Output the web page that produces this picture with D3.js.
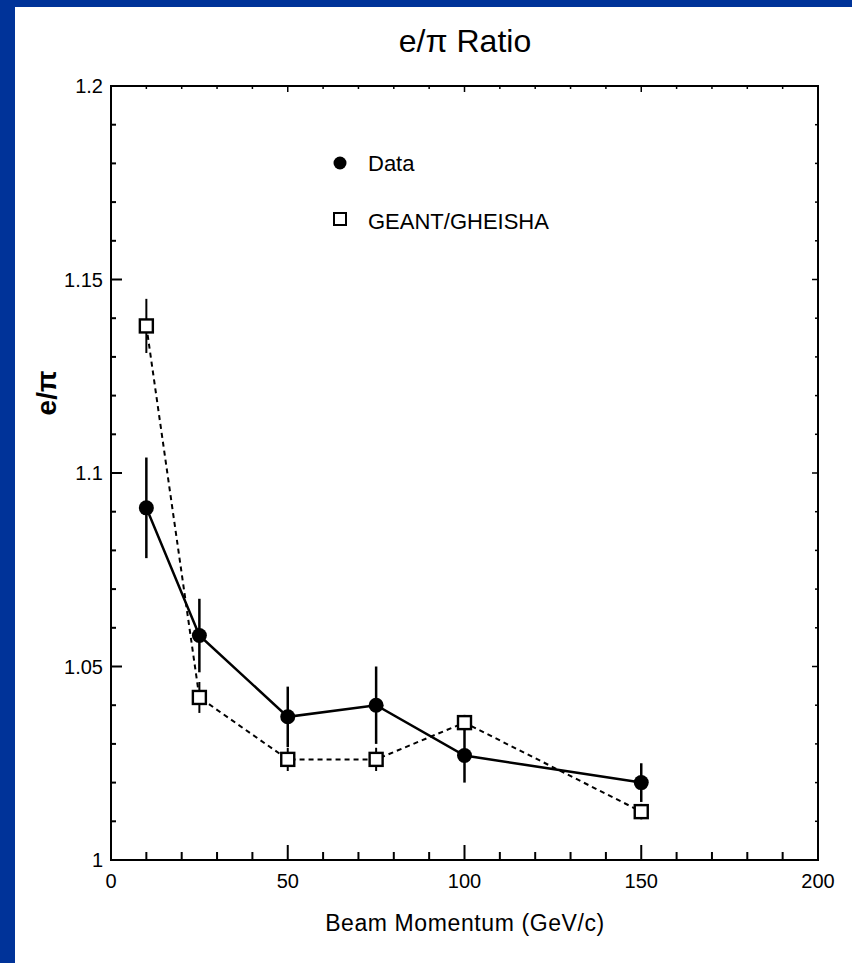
<!DOCTYPE html>
<html>
<head>
<meta charset="utf-8">
<script src="https://cdn.jsdelivr.net/npm/d3@7"></script>
<style>
  html, body { margin: 0; padding: 0; background: #003399; }
  svg { display: block; }
  text { font-family: "Liberation Sans", Arial, sans-serif; fill: #000; }
</style>
</head>
<body>
<div id="container"></div>
<script>
// values
let momenta = [10, 25, 50, 75, 100, 150];
let dataRatio = [1.091, 1.058, 1.037, 1.040, 1.027, 1.020];
let dataErr = [0.013, 0.0095, 0.0078, 0.010, 0.007, 0.005];
let geantRatio = [1.138, 1.042, 1.026, 1.026, 1.0355, 1.0125];
let geantErr = [0.007, 0.004, 0.003, 0.003, 0.002, 0.002];
let seriesNames = ["Data", "GEANT/GHEISHA"];
let xTicks = [0, 50, 100, 150, 200];
let yTicks = [1, 1.05, 1.1, 1.15, 1.2];
let yTickLabels = ["1", "1.05", "1.1", "1.15", "1.2"];

let W = 852, H = 963;
let margin = {top: 86, right: 34, bottom: 103, left: 111},
    width = W - margin.left - margin.right,
    height = H - margin.top - margin.bottom;

let svg = d3.select("#container")
            .append("svg")
              .attr("width", W)
              .attr("height", H);

// blue slide frame, white page
svg.append("rect").attr("width", W).attr("height", H).attr("fill", "#003399");
svg.append("rect").attr("x", 15).attr("y", 7).attr("width", W - 15).attr("height", H - 7).attr("fill", "#fff");

let graph = svg.append("g")
               .attr("transform", "translate(" + margin.left + "," + margin.top + ")");

let xScale = d3.scaleLinear().domain([0, 200]).range([0, width]);
let yScale = d3.scaleLinear().domain([1, 1.2]).range([height, 0]);

// frame
graph.append("rect")
     .attr("width", width).attr("height", height)
     .attr("fill", "none").attr("stroke", "#000").attr("stroke-width", 2);

// inward ticks, minor every 10 on x and 0.01 on y
let xMinor = d3.range(0, 201, 10);
let yMinor = d3.range(0, 21).map(i => 1 + i * 0.01);
function isMajorX(v) { return v % 50 === 0; }
function isMajorY(v) { return Math.abs(v * 20 - Math.round(v * 20)) < 1e-6; }

graph.append("g").selectAll("line")
     .data(xMinor).enter().append("line")
       .attr("x1", d => xScale(d)).attr("x2", d => xScale(d))
       .attr("y1", height).attr("y2", d => height - (isMajorX(d) ? 15 : 8))
       .attr("stroke", "#000").attr("stroke-width", 2);
graph.append("g").selectAll("line")
     .data(xMinor).enter().append("line")
       .attr("x1", d => xScale(d)).attr("x2", d => xScale(d))
       .attr("y1", 0).attr("y2", d => isMajorX(d) ? 6 : 3)
       .attr("stroke", "#000").attr("stroke-width", 1.5);
graph.append("g").selectAll("line")
     .data(yMinor).enter().append("line")
       .attr("y1", d => yScale(d)).attr("y2", d => yScale(d))
       .attr("x1", 0).attr("x2", d => isMajorY(d) ? 11 : 5)
       .attr("stroke", "#000").attr("stroke-width", 2);
graph.append("g").selectAll("line")
     .data(yMinor).enter().append("line")
       .attr("y1", d => yScale(d)).attr("y2", d => yScale(d))
       .attr("x1", width).attr("x2", d => width - (isMajorY(d) ? 6 : 3))
       .attr("stroke", "#000").attr("stroke-width", 1.5);

// tick labels
graph.append("g").selectAll("text")
     .data(xTicks).enter().append("text")
       .attr("x", d => xScale(d)).attr("y", height + 28)
       .attr("text-anchor", "middle")
       .style("font-size", "20px")
       .text(d => d);
graph.append("g").selectAll("text")
     .data(yTicks).enter().append("text")
       .attr("x", -8).attr("y", d => yScale(d) + 7)
       .attr("text-anchor", "end")
       .style("font-size", "20px")
       .text((d, i) => yTickLabels[i]);

// titles
svg.append("text")
   .attr("x", 465).attr("y", 52)
   .attr("text-anchor", "middle")
   .style("font-size", "32px")
   .text("e/\u03c0 Ratio");
svg.append("text")
   .attr("x", 465).attr("y", 931)
   .attr("text-anchor", "middle")
   .style("font-size", "23px")
   .style("letter-spacing", "0.6px")
   .text("Beam Momentum (GeV/c)");
svg.append("text")
   .attr("transform", "translate(56,393) rotate(-90)")
   .attr("text-anchor", "middle")
   .style("font-size", "28px")
   .style("font-weight", "bold")
   .text("e/\u03c0");

let dataPts = momenta.map((m, i) => ({x: m, y: dataRatio[i], e: dataErr[i]}));
let geantPts = momenta.map((m, i) => ({x: m, y: geantRatio[i], e: geantErr[i]}));

let line = d3.line().x(d => xScale(d.x)).y(d => yScale(d.y));

// GEANT (dashed, open squares)
graph.append("path").datum(geantPts)
     .attr("d", line).attr("fill", "none")
     .attr("stroke", "#000").attr("stroke-width", 2)
     .attr("stroke-dasharray", "5,4");
graph.append("g").selectAll("line")
     .data(geantPts).enter().append("line")
       .attr("x1", d => xScale(d.x)).attr("x2", d => xScale(d.x))
       .attr("y1", d => yScale(d.y + d.e)).attr("y2", d => yScale(d.y - d.e))
       .attr("stroke", "#000").attr("stroke-width", 2);

// Data (solid, filled circles)
graph.append("path").datum(dataPts)
     .attr("d", line).attr("fill", "none")
     .attr("stroke", "#000").attr("stroke-width", 2.5);
graph.append("g").selectAll("line")
     .data(dataPts).enter().append("line")
       .attr("x1", d => xScale(d.x)).attr("x2", d => xScale(d.x))
       .attr("y1", d => yScale(d.y + d.e)).attr("y2", d => yScale(d.y - d.e))
       .attr("stroke", "#000").attr("stroke-width", 2.5);

graph.append("g").selectAll("rect")
     .data(geantPts).enter().append("rect")
       .attr("x", d => xScale(d.x) - 6.5).attr("y", d => yScale(d.y) - 6.5)
       .attr("width", 13).attr("height", 13)
       .attr("fill", "#fff").attr("stroke", "#000").attr("stroke-width", 2.4);
graph.append("g").selectAll("circle")
     .data(dataPts).enter().append("circle")
       .attr("cx", d => xScale(d.x)).attr("cy", d => yScale(d.y))
       .attr("r", 7.5).attr("fill", "#000");

// legend
let legend = svg.append("g");
legend.append("circle").attr("cx", 340).attr("cy", 163).attr("r", 6.5).attr("fill", "#000");
legend.append("rect").attr("x", 334).attr("y", 213).attr("width", 12).attr("height", 12)
      .attr("fill", "#fff").attr("stroke", "#000").attr("stroke-width", 2);
legend.selectAll("text")
      .data(seriesNames).enter().append("text")
        .attr("x", 368).attr("y", (d, i) => 171 + i * 58)
        .style("font-size", "22px")
        .text(d => d);
</script>
</body>
</html>
